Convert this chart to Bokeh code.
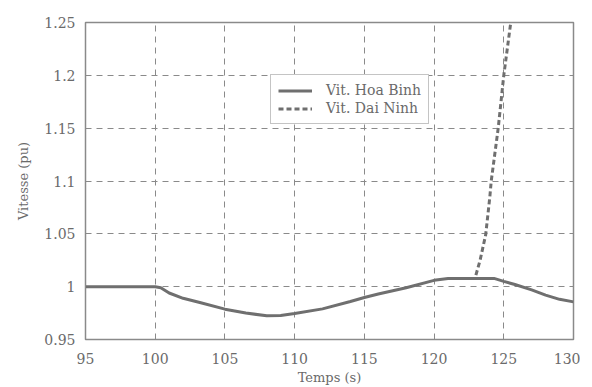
from bokeh.plotting import figure
from bokeh.models import FixedTicker, Legend, LegendItem
from bokeh.embed import file_html
from bokeh.resources import INLINE

# Data
t_hoa_binh = [95, 100, 100.4, 101, 102, 103.2, 105, 106.5, 108, 109, 110, 112, 114, 115, 116, 118, 120, 121, 122, 123, 124.3, 125, 125.8, 127, 128, 129, 130]
v_hoa_binh = [1.0, 1.0, 0.999, 0.994, 0.989, 0.985, 0.9787, 0.975, 0.9725, 0.9728, 0.9747, 0.979, 0.986, 0.9897, 0.993, 0.999, 1.006, 1.0078, 1.0078, 1.0078, 1.0078, 1.005, 1.002, 0.997, 0.992, 0.988, 0.9856]

t_dai_ninh = [123.0, 123.3, 123.7, 124.0, 124.1, 124.6, 125.0, 125.5]
v_dai_ninh = [1.011, 1.025, 1.049, 1.085, 1.10, 1.15, 1.20, 1.25]

x_ticks = [95, 100, 105, 110, 115, 120, 125, 130]
y_ticks = [0.95, 1.0, 1.05, 1.1, 1.15, 1.2, 1.25]
y_tick_labels = ["0.95", "1", "1.05", "1.1", "1.15", "1.2", "1.25"]

FONT = "DejaVu Serif"
TXT = "#6a6a6a"
LINE = "#6f6f6f"
GRID = "#8a8a8a"

p = figure(width=580, height=387, x_range=(95, 130), y_range=(0.95, 1.25),
           output_backend="svg", toolbar_location=None,
           min_border_left=85, min_border_right=7, min_border_top=22, min_border_bottom=45)

r1 = p.line(t_hoa_binh, v_hoa_binh, line_color=LINE, line_width=3)
r2 = p.line(t_dai_ninh, v_dai_ninh, line_color=LINE, line_width=3, line_dash="5 3")

p.xaxis.ticker = FixedTicker(ticks=x_ticks)
p.yaxis.ticker = FixedTicker(ticks=y_ticks)
p.yaxis.major_label_overrides = {v: s for v, s in zip(y_ticks, y_tick_labels)}

p.xaxis.axis_label = "Temps (s)"
p.yaxis.axis_label = "Vitesse (pu)"
for ax in (p.xaxis, p.yaxis):
    ax.axis_label_text_font = FONT
    ax.axis_label_text_font_style = "normal"
    ax.axis_label_text_font_size = "13px"
    ax.axis_label_text_color = TXT
    ax.major_label_text_font = FONT
    ax.major_label_text_font_size = "14px"
    ax.major_label_text_color = TXT
    ax.axis_line_color = GRID
    ax.major_tick_line_color = None
    ax.minor_tick_line_color = None
p.xaxis.major_label_standoff = 7
p.xaxis.axis_label_standoff = 3
p.yaxis.major_label_standoff = 4
p.yaxis.axis_label_standoff = 10

p.xgrid.grid_line_color = GRID
p.ygrid.grid_line_color = GRID
p.xgrid.grid_line_dash = "6 5"
p.ygrid.grid_line_dash = "6 5"
p.xgrid.grid_line_width = 1
p.ygrid.grid_line_width = 1

p.outline_line_color = GRID
p.outline_line_width = 1.5
p.background_fill_color = "white"
p.border_fill_color = "white"

legend = Legend(items=[LegendItem(label="Vit. Hoa Binh", renderers=[r1]),
                       LegendItem(label="Vit. Dai Ninh", renderers=[r2])],
                location=(185, 215))
legend.label_text_font = FONT
legend.label_text_font_size = "14px"
legend.label_text_color = TXT
legend.border_line_color = GRID
legend.border_line_width = 1.5
legend.background_fill_alpha = 1
legend.glyph_width = 34
legend.glyph_height = 13
legend.spacing = 2
legend.padding = 7
legend.margin = 0
legend.label_standoff = 14
legend.label_height = 13
p.add_layout(legend, "center")

open("out.html", "w").write(file_html(p, INLINE))
